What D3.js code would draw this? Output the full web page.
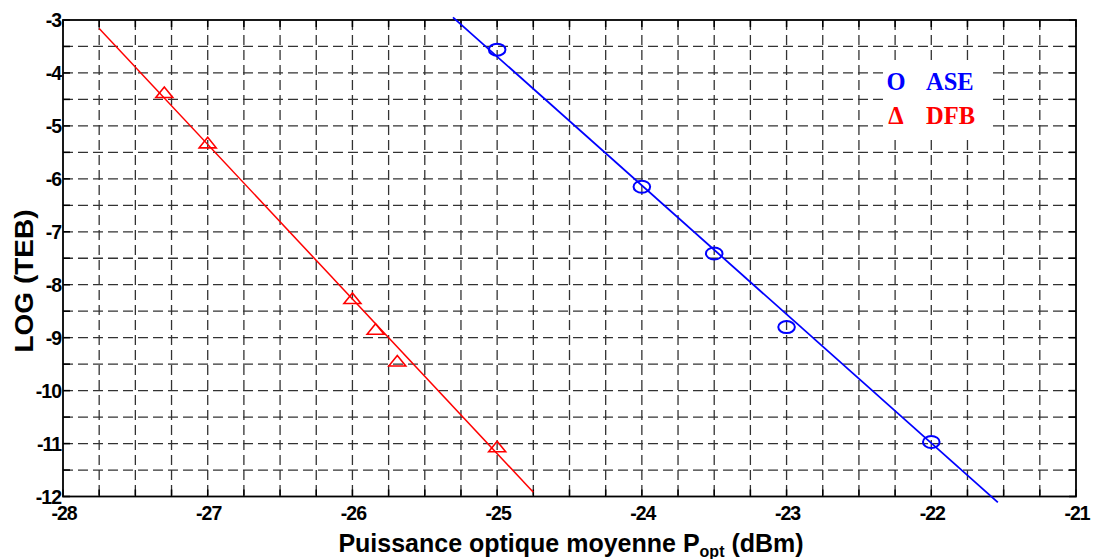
<!DOCTYPE html>
<html>
<head>
<meta charset="utf-8">
<script src="https://cdn.jsdelivr.net/npm/d3@7"></script>
<style>
  html, body { margin: 0; padding: 0; background: #fff; }
  svg { display: block; }
  text { font-family: "Liberation Sans", Arial, sans-serif; font-weight: bold; }
</style>
</head>
<body>
<svg id="chart" width="1094" height="559"></svg>
<script>
// Measured BER (log10) versus mean received optical power
const asePower = [-25, -24, -23.5, -23, -22];
const aseLogBer = [-3.56, -6.15, -7.41, -8.8, -10.97];
const dfbPower = [-27.3, -27, -26, -25.84, -25.69, -25];
const dfbLogBer = [-4.38, -5.33, -8.27, -8.85, -9.45, -11.07];

// Linear fits (start and end points)
const aseFitPower = [-25.305, -21.54];
const aseFitLogBer = [-2.95, -12.11];
const dfbFitPower = [-27.75, -24.75];
const dfbFitLogBer = [-3.16, -11.92];

const xTicks = [-28, -27, -26, -25, -24, -23, -22, -21];
const yTicks = [-3, -4, -5, -6, -7, -8, -9, -10, -11, -12];
const xGrid = d3.range(-28, -20.999, 0.25);
const yGrid = d3.range(-12, -2.999, 0.5);

const legendLabels = ["ASE", "DFB"];
const legendSymbols = ["O", "\u0394"];
const colors = { ase: "#0000ff", dfb: "#ff0000" };

const svg = d3.select("#chart");
const mLeft = 63, mRight = 1076, mTop = 20, mBottom = 496.5;

const x = d3.scaleLinear().domain([-28, -21]).range([mLeft, mRight]);
const y = d3.scaleLinear().domain([-12, -3]).range([mBottom, mTop]);

// dashed grid
const grid = svg.append("g").attr("stroke", "#333").attr("stroke-width", 1.3)
  .attr("stroke-dasharray", "10,5").attr("fill", "none");
grid.selectAll("line.v").data(xGrid.slice(1, -1)).enter().append("line")
  .attr("x1", d => x(d)).attr("x2", d => x(d)).attr("y1", mTop).attr("y2", mBottom);
grid.selectAll("line.h").data(yGrid.slice(1, -1)).enter().append("line")
  .attr("x1", mLeft).attr("x2", mRight).attr("y1", d => y(d)).attr("y2", d => y(d));

// inner tick marks on all four sides
const ticks = svg.append("g").attr("stroke", "#000").attr("stroke-width", 1.5);
const tl = 7;
xGrid.forEach(v => {
  ticks.append("line").attr("x1", x(v)).attr("x2", x(v)).attr("y1", mBottom).attr("y2", mBottom - tl);
  ticks.append("line").attr("x1", x(v)).attr("x2", x(v)).attr("y1", mTop).attr("y2", mTop + tl);
});
yGrid.forEach(v => {
  ticks.append("line").attr("x1", mLeft).attr("x2", mLeft + tl).attr("y1", y(v)).attr("y2", y(v));
  ticks.append("line").attr("x1", mRight).attr("x2", mRight - tl).attr("y1", y(v)).attr("y2", y(v));
});

// legend backdrop
svg.append("rect").attr("x", 884).attr("y", 61).attr("width", 108).attr("height", 76).attr("fill", "#fff");

// frame
svg.append("rect").attr("x", mLeft).attr("y", mTop).attr("width", mRight - mLeft).attr("height", mBottom - mTop)
  .attr("fill", "none").attr("stroke", "#000").attr("stroke-width", 1.8);

// axis tick labels
svg.append("g").selectAll("text").data(xTicks).enter().append("text")
  .attr("x", d => x(d) + 1).attr("y", 520)
  .attr("text-anchor", "middle").attr("font-size", 19.5).attr("letter-spacing", -1)
  .text(d => String(d));
svg.append("g").selectAll("text").data(yTicks).enter().append("text")
  .attr("x", 61).attr("y", d => y(d) + 7)
  .attr("text-anchor", "end").attr("font-size", 19.5).attr("letter-spacing", -1)
  .text(d => String(d));

// axis titles
const xt = svg.append("text").attr("x", 571).attr("y", 552).attr("text-anchor", "middle")
  .attr("font-size", 25);
xt.append("tspan").text("Puissance optique moyenne P");
xt.append("tspan").attr("font-size", 16).attr("dy", 5).text("opt");
xt.append("tspan").attr("dy", -5).text(" (dBm)");

svg.append("text").attr("transform", "translate(33,281) rotate(-90)")
  .attr("text-anchor", "middle").attr("font-size", 25)
  .attr("textLength", 143).attr("lengthAdjust", "spacingAndGlyphs")
  .text("LOG (TEB)");

// fit lines
const line = d3.line().x(d => x(d[0])).y(d => y(d[1]));
svg.append("path").datum(d3.zip(aseFitPower, aseFitLogBer)).attr("d", line)
  .attr("fill", "none").attr("stroke", colors.ase).attr("stroke-width", 1.8);
svg.append("path").datum(d3.zip(dfbFitPower, dfbFitLogBer)).attr("d", line)
  .attr("fill", "none").attr("stroke", colors.dfb).attr("stroke-width", 1.5);

// markers
svg.append("g").selectAll("ellipse").data(d3.zip(asePower, aseLogBer)).enter().append("ellipse")
  .attr("cx", d => x(d[0])).attr("cy", d => y(d[1])).attr("rx", 8.3).attr("ry", 6)
  .attr("fill", "none").attr("stroke", colors.ase).attr("stroke-width", 2);
const tri = (cx, cy) => `M${cx - 8.5},${cy + 4.5}L${cx},${cy - 6}L${cx + 8.5},${cy + 4.5}Z`;
svg.append("g").selectAll("path").data(d3.zip(dfbPower, dfbLogBer)).enter().append("path")
  .attr("d", d => tri(x(d[0]), y(d[1])))
  .attr("fill", "none").attr("stroke", colors.dfb).attr("stroke-width", 1.6);

// legend
const lg = svg.append("g").attr("font-size", 24.5);
legendLabels.forEach((lab, i) => {
  const c = i === 0 ? colors.ase : colors.dfb;
  lg.append("text").attr("x", 896).attr("y", 90 + i * 34).attr("text-anchor", "middle")
    .attr("fill", c).style("font-family", "'Liberation Serif', serif").text(legendSymbols[i]);
  lg.append("text").attr("x", 926).attr("y", 90 + i * 34)
    .attr("fill", c).style("font-family", "'Liberation Serif', serif").text(lab);
});
</script>
</body>
</html>
